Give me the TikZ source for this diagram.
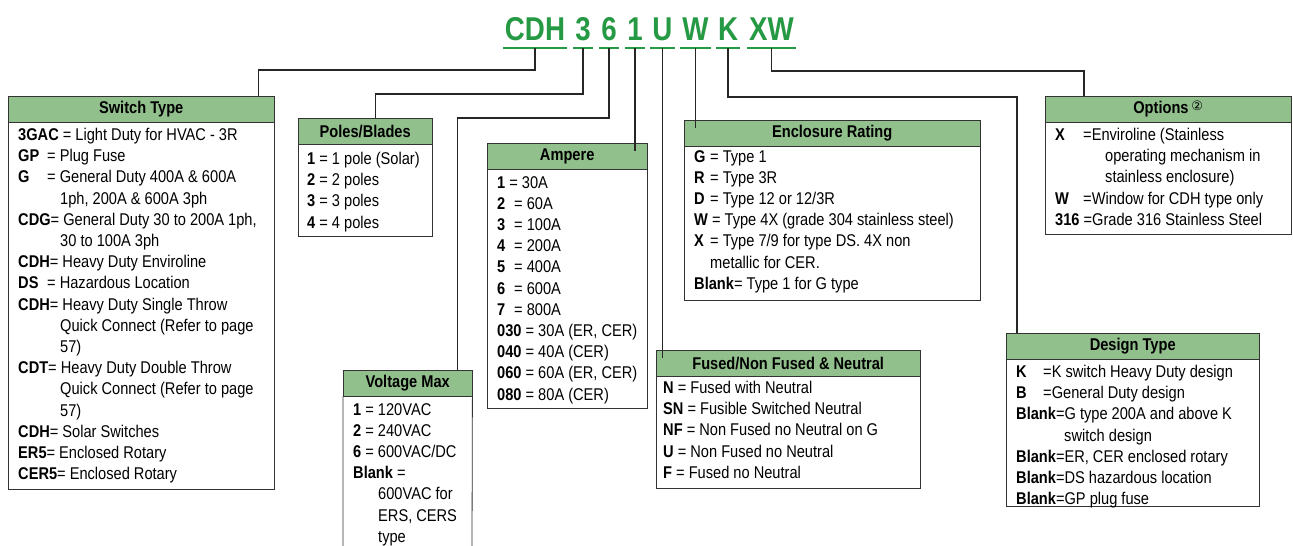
\documentclass[tikz,border=0pt]{standalone}
\usepackage{fontspec}
\setmainfont{Liberation Sans}[FakeStretch=0.86]
\newfontfamily\titlefont{Liberation Sans}[FakeStretch=0.84]
\newfontfamily\symfont{DejaVu Sans}
\usepackage{tikz}
\usetikzlibrary{calc}
\definecolor{codegreen}{RGB}{38,153,68}
\definecolor{headgreen}{RGB}{146,192,141}
\newcommand{\kw}[1]{\textbf{#1}}
\newcommand{\ind}[1]{\hspace*{#1pt}}
\newcommand{\lbl}[2]{\makebox[#1pt][l]{\textbf{#2}}}
\newcommand{\txtfont}{\fontsize{17}{21.2}\selectfont}

\tikzset{
	code/.style={font=\titlefont\bfseries\fontsize{33}{33}\selectfont,text=codegreen,inner xsep=2pt,inner ysep=0pt,anchor=base},
	uline/.style={draw=codegreen,line width=1.5pt},
	head/.style={draw=black!80,fill=headgreen,font=\txtfont\bfseries,minimum height=26pt,inner sep=0pt,anchor=north west},
	body/.style={font=\txtfont,anchor=north west,align=left,inner sep=0pt},
	conn/.style={draw=black!85,line width=1.2pt},
	frame/.style={draw=black!80,line width=0.8pt}
}

\begin{document}
\begin{tikzpicture}[x=1pt,y=-1pt]
			\useasboundingbox (0,0) rectangle (1293,546);
			
			% catalogue number
			\node[code] (ccdh) at (535,40) {CDH};
			\node[code] (c3) at (583,40) {3};
			\node[code] (c6) at (609,40) {6};
			\node[code] (c1) at (635,40) {1};
			\node[code] (cu) at (662.5,40) {U};
			\node[code] (cw) at (695.5,40) {W};
			\node[code] (ck) at (728,40) {K};
			\node[code] (cxw) at (771.5,40) {XW};
			\foreach \c in {ccdh,c3,c6,c1,cu,cw,ck,cxw}
				\draw[uline] ([yshift=-8pt]\c.base west) -- ([yshift=-8pt]\c.base east);
			
			% Switch Type
			\node[head,minimum width=266pt] (hswitch) at (8,96) {Switch Type};
			\draw[frame] (hswitch.south west) rectangle (274,489);
			\node[body] (bswitch) at (18,128) {\kw{3GAC} = Light Duty for HVAC - 3R\\
				\lbl{29}{GP}= Plug Fuse\\
				\lbl{29}{G}= General Duty 400A \& 600A\\
				\ind{42}1ph, 200A \& 600A 3ph\\
				\kw{CDG}= General Duty 30 to 200A 1ph,\\
				\ind{42}30 to 100A 3ph\\
				\kw{CDH}= Heavy Duty Enviroline\\
				\lbl{29}{DS}= Hazardous Location\\
				\kw{CDH}= Heavy Duty Single Throw\\
				\ind{42}Quick Connect (Refer to page\\
				\ind{42}57)\\
				\kw{CDT}= Heavy Duty Double Throw\\
				\ind{42}Quick Connect (Refer to page\\
				\ind{42}57)\\
				\kw{CDH}= Solar Switches\\
				\kw{ER5}= Enclosed Rotary\\
				\kw{CER5}= Enclosed Rotary};
			
			% Poles/Blades
			\node[head,minimum width=134pt] (hpoles) at (298,118) {Poles/Blades};
			\draw[frame] (hpoles.south west) rectangle (432,236);
			\node[body] (bpoles) at (307,152) {\kw{1} = 1 pole (Solar)\\
				\kw{2} = 2 poles\\
				\kw{3} = 3 poles\\
				\kw{4} = 4 poles};
			
			% Voltage Max
			\node[head,minimum width=129pt] (hvolt) at (343,370) {Voltage Max};
			\draw[frame] (hvolt.south west) -- (343,546) (hvolt.south east) -- (472,546);
			\node[body] (bvolt) at (353,403) {\kw{1} = 120VAC\\
				\kw{2} = 240VAC\\
				\kw{6} = 600VAC/DC\\
				\kw{Blank} =\\
				\ind{25}600VAC for\\
				\ind{25}ERS, CERS\\
				\ind{25}type};
			
			% Ampere
			\node[head,minimum width=160pt] (hamp) at (487,143) {Ampere};
			\draw[frame] (hamp.south west) rectangle (647,408);
			\node[body] (bamp) at (497,176) {\kw{1} = 30A\\
				\lbl{17}{2}= 60A\\
				\lbl{17}{3}= 100A\\
				\lbl{17}{4}= 200A\\
				\lbl{17}{5}= 400A\\
				\lbl{17}{6}= 600A\\
				\lbl{17}{7}= 800A\\
				\kw{030} = 30A (ER, CER)\\
				\kw{040} = 40A (CER)\\
				\kw{060} = 60A (ER, CER)\\
				\kw{080} = 80A (CER)};
			
			% Enclosure Rating
			\node[head,minimum width=296pt] (hencl) at (684,120) {Enclosure Rating};
			\draw[frame] (hencl.south west) rectangle (980,300);
			\node[body] (bencl) at (694,150) {\lbl{16}{G}= Type 1\\
				\lbl{16}{R}= Type 3R\\
				\lbl{16}{D}= Type 12 or 12/3R\\
				\kw{W} = Type 4X (grade 304 stainless steel)\\
				\lbl{16}{X}= Type 7/9 for type DS. 4X non\\
				\ind{16}metallic for CER.\\
				\kw{Blank}= Type 1 for G type};
			
			% Fused/Non Fused & Neutral
			\node[head,minimum width=264pt] (hfuse) at (656,350) {Fused/Non Fused \& Neutral};
			\draw[frame] (hfuse.south west) rectangle (920,488);
			\node[body] (bfuse) at (663,381) {\kw{N} = Fused with Neutral\\
				\kw{SN} = Fusible Switched Neutral\\
				\kw{NF} = Non Fused no Neutral on G\\
				\kw{U} = Non Fused no Neutral\\
				\kw{F} = Fused no Neutral};
			
			% Options
			\node[head,minimum width=246pt] (hopt) at (1045,96) {Options\,{\symfont\mdseries\fontsize{13}{13}\selectfont\raisebox{3pt}{②}}};
			\draw[frame] (hopt.south west) rectangle (1291,234);
			\node[body] (bopt) at (1055,128) {\lbl{28}{X}=Enviroline (Stainless\\
				\ind{50}operating mechanism in\\
				\ind{50}stainless enclosure)\\
				\lbl{28}{W}=Window for CDH type only\\
				\kw{316} =Grade 316 Stainless Steel};
			
			% Design Type
			\node[head,minimum width=253pt] (hdesign) at (1006,333) {Design Type};
			\draw[frame] (hdesign.south west) rectangle (1259,506);
			\node[body] (bdesign) at (1016,365) {\lbl{27}{K}=K switch Heavy Duty design\\
				\lbl{27}{B}=General Duty design\\
				\kw{Blank}=G type 200A and above K\\
				\ind{48}switch design\\
				\kw{Blank}=ER, CER enclosed rotary\\
				\kw{Blank}=DS hazardous location\\
				\kw{Blank}=GP plug fuse};
			
			% leaders from the code letters
			\draw[conn] ([yshift=-8pt]ccdh.base) -- ++(0,22) -| ([xshift=-16pt]hswitch.north east);
			\draw[conn] ([yshift=-8pt]c3.base) -- ++(0,46) -| ([xshift=-57pt]hpoles.north east);
			\draw[conn] ([yshift=-8pt]c6.base) -- ++(0,70) -| ([xshift=-15pt]hvolt.north east);
			\draw[conn] ([yshift=-8pt]c1.base) -- ([yshift=-8pt]c1.base |- hamp.north);
			\draw[conn] ([yshift=-8pt]cu.base) -- ([yshift=-8pt]cu.base |- hfuse.north);
			\draw[conn] ([yshift=-8pt]cw.base) -- ([yshift=-8pt]cw.base |- hencl.north);
			\draw[conn] ([yshift=-8pt]ck.base) -- ++(0,49) -| ([xshift=11pt]hdesign.north west);
			\draw[conn] ([yshift=-8pt]cxw.base) -- ++(0,23) -| ([xshift=39pt]hopt.north west);

		\end{tikzpicture}
\end{document}
